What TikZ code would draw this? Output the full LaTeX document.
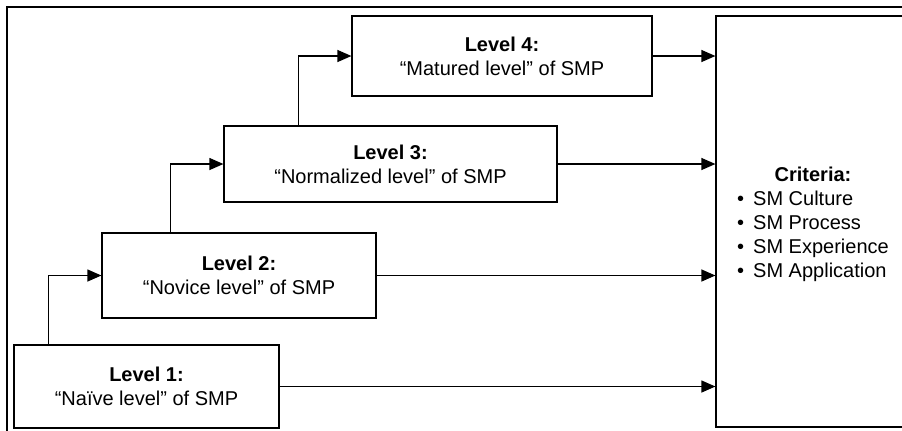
\documentclass[tikz,border=0pt]{standalone}
\usepackage{fontspec}
\setmainfont{Liberation Sans}
\usetikzlibrary{arrows.meta}

\begin{document}
\begin{tikzpicture}[x=0.75pt,y=-0.75pt,>={Triangle[length=10.5pt,width=9pt]},
 line width=0.9pt,box/.style={draw,align=center,inner sep=0pt},
 font=\fontsize{15}{18}\selectfont]
\clip (0,0) rectangle (902,430);
\draw (7,7) rectangle (920,445);
\node[box,minimum width=198.75pt,minimum height=62.25pt] (l1) at (146.5,386.5) {\textbf{Level 1:}\\“Naïve level” of SMP};
\node[box,minimum width=205.5pt,minimum height=63.75pt] (l2) at (239,275.5) {\textbf{Level 2:}\\“Novice level” of SMP};
\node[box,minimum width=249.75pt,minimum height=57pt] (l3) at (390.5,164) {\textbf{Level 3:}\\“Normalized level” of SMP};
\node[box,minimum width=225pt,minimum height=60pt] (l4) at (502,56) {\textbf{Level 4:}\\“Matured level” of SMP};
\node[box,minimum width=145.5pt,minimum height=308.25pt] (crit) at (813,221.5) {\rule{0pt}{18pt}\textbf{Criteria:}\\
 \begin{tabular}[t]{@{}l@{}}
 \makebox[12pt][l]{\textbullet}SM Culture\\
 \makebox[12pt][l]{\textbullet}SM Process\\
 \makebox[12pt][l]{\textbullet}SM Experience\\
 \makebox[12pt][l]{\textbullet}SM Application
 \end{tabular}};
% level to level
\draw[->] ([xshift=26.25pt]l1.north west) |- (l2.west);
\draw[->] ([xshift=51.75pt]l2.north west) |- (l3.west);
\draw[->] ([xshift=56.25pt]l3.north west) |- (l4.west);
% levels to criteria
\draw[->] (l1.east) -- (l1.east -| crit.west);
\draw[->] (l2.east) -- (l2.east -| crit.west);
\draw[->] (l3.east) -- (l3.east -| crit.west);
\draw[->] (l4.east) -- (l4.east -| crit.west);
\end{tikzpicture}
\end{document}
